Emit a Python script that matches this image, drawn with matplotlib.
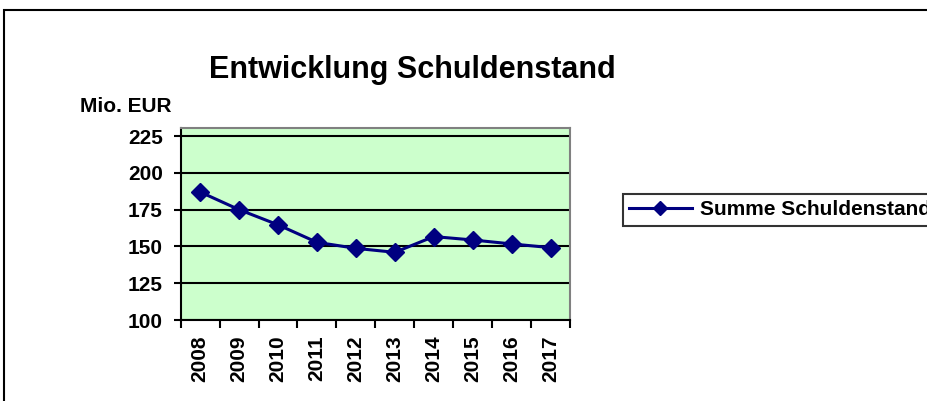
import numpy as np
import matplotlib.pyplot as plt
from matplotlib.patches import Rectangle

plt.rcParams['font.family'] = ['Liberation Sans', 'DejaVu Sans']
plt.rcParams['font.weight'] = 'bold'

# Data
years = ['2008', '2009', '2010', '2011', '2012', '2013', '2014', '2015', '2016', '2017']
schulden = [187, 175, 164.7, 152.8, 148.7, 146, 156.7, 154.4, 151.7, 149.2]
yticks = [100, 125, 150, 175, 200, 225]

fig = plt.figure(figsize=(9.28, 4.01), dpi=100)
fig.patch.set_facecolor('white')

# outer chart border
fig.patches.append(Rectangle((4 / 928, -0.05), 1.0, 0.05 + (1 - 10 / 401), transform=fig.transFigure,
                             fill=False, edgecolor='black', linewidth=1.5, zorder=0))

ax = fig.add_axes([180.7 / 928, 1 - 320 / 401, (570 - 180.7) / 928, (320 - 128) / 401])
ax.set_facecolor('#CCFFCC')

x = np.arange(len(years))
ax.plot(x, schulden, color='#000080', linewidth=2.2, marker='D', markersize=9,
        label='Summe Schuldenstand', zorder=3)

ax.set_xlim(-0.5, len(years) - 0.5)
ax.set_ylim(100, 230.5)
ax.set_yticks(yticks)
ax.set_yticklabels([str(v) for v in yticks], fontsize=15, fontweight='bold')
ax.yaxis.grid(True, color='black', linewidth=1.5)
ax.set_axisbelow(True)
ax.tick_params(axis='y', direction='out', length=5, width=1.5, pad=8)

ax.set_xticks(x)
ax.set_xticklabels(years, rotation=90, fontsize=15, fontweight='bold')
ax.set_xticks(np.arange(len(years) + 1) - 0.5, minor=True)
ax.tick_params(axis='x', which='major', length=0, pad=11)
ax.tick_params(axis='x', which='minor', direction='out', length=6, width=1.5)

for s in ['left', 'bottom']:
    ax.spines[s].set_color('black')
    ax.spines[s].set_linewidth(1.5)
for s in ['top', 'right']:
    ax.spines[s].set_color('#808080')
    ax.spines[s].set_linewidth(1.5)

fig.text(412 / 928, 1 - 70 / 401, 'Entwicklung Schuldenstand', fontsize=22, fontweight='bold',
         ha='center', va='center')
fig.text(80 / 928, 1 - 106 / 401, 'Mio. EUR', fontsize=15, fontweight='bold', ha='left', va='center')

leg = fig.legend(loc='upper left', bbox_to_anchor=(623 / 928, 1 - 194 / 401), fontsize=15,
                 frameon=True, fancybox=False, edgecolor='black', borderpad=0.3, borderaxespad=0,
                 handlelength=3.0, handletextpad=0.4, markerscale=0.8)
leg.get_frame().set_linewidth(1.5)
for t in leg.get_texts():
    t.set_fontweight('bold')

fig.savefig('out.png', dpi=100)
